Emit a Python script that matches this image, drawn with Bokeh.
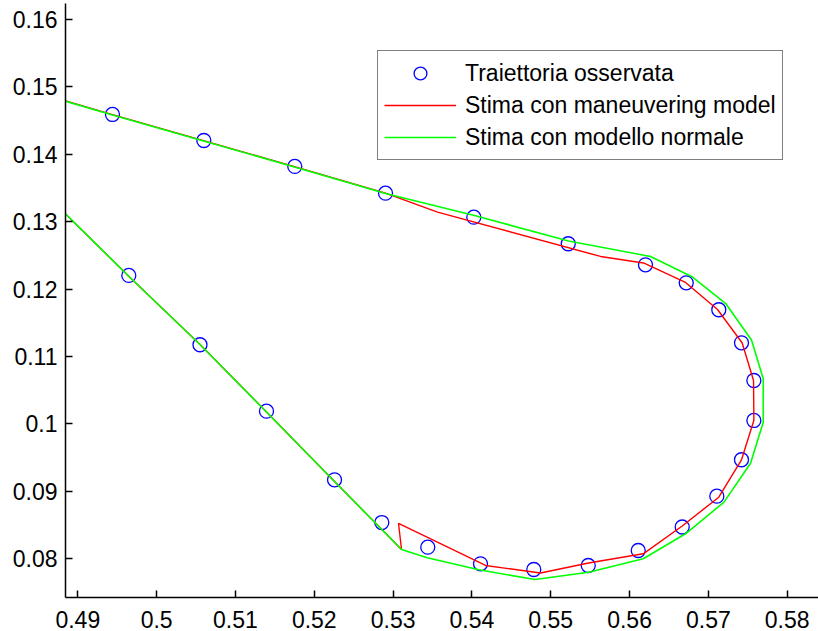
from bokeh.plotting import figure
from bokeh.models import Range1d, FixedTicker, CustomJSTickFormatter, Legend, LegendItem
from bokeh.embed import file_html
from bokeh.resources import INLINE

# Observed trajectory
obs_x = [0.49440, 0.50599, 0.51753, 0.52904, 0.54024, 0.55222, 0.56202, 0.56719,
         0.57132, 0.57420, 0.57577, 0.57577, 0.57420, 0.57107, 0.56668, 0.56110,
         0.55476, 0.54785, 0.54109, 0.53440, 0.52857, 0.52257, 0.51394, 0.50550,
         0.49647]
obs_y = [0.14591, 0.14205, 0.13820, 0.13424, 0.13067, 0.12673, 0.12361, 0.12094,
         0.11694, 0.11204, 0.10645, 0.10052, 0.09469, 0.08929, 0.08472, 0.08123,
         0.07901, 0.07841, 0.07926, 0.08172, 0.08538, 0.09172, 0.10190, 0.11175,
         0.12203]

# Estimate with maneuvering model
man_x = [0.48286, 0.49440, 0.50595, 0.51749, 0.52904, 0.53564, 0.55632, 0.56177,
         0.56710, 0.57116, 0.57429, 0.57573, 0.57577, 0.57420, 0.57132, 0.56668,
         0.56173, 0.55479, 0.54870, 0.54173, 0.53069, 0.53107, 0.52257, 0.51394,
         0.50544, 0.49643, 0.48755]
man_y = [0.14982, 0.14589, 0.14203, 0.13817, 0.13424, 0.13142, 0.12485, 0.12388,
         0.12099, 0.11698, 0.11201, 0.10645, 0.10052, 0.09469, 0.08914, 0.08487,
         0.08074, 0.07938, 0.07789, 0.07901, 0.08524, 0.08138, 0.09147, 0.10178,
         0.11186, 0.12195, 0.13219]

# Estimate with normal model
nor_x = [0.48286, 0.49440, 0.50595, 0.51749, 0.52904, 0.54033, 0.55226, 0.56266,
         0.56799, 0.57224, 0.57547, 0.57696, 0.57696, 0.57535, 0.57198, 0.56710,
         0.56173, 0.55483, 0.54798, 0.54088, 0.53433, 0.53107, 0.52257, 0.51394,
         0.50544, 0.49643, 0.48755]
nor_y = [0.14977, 0.14584, 0.14198, 0.13812, 0.13419, 0.13093, 0.12714, 0.12485,
         0.12180, 0.11780, 0.11246, 0.10670, 0.10026, 0.09418, 0.08840, 0.08371,
         0.08000, 0.07801, 0.07693, 0.07837, 0.08015, 0.08138, 0.09147, 0.10178,
         0.11186, 0.12195, 0.13219]

x_ticks = [0.49, 0.50, 0.51, 0.52, 0.53, 0.54, 0.55, 0.56, 0.57, 0.58]
y_ticks = [0.08, 0.09, 0.10, 0.11, 0.12, 0.13, 0.14, 0.15, 0.16]

labels = ["Traiettoria osservata", "Stima con maneuvering model", "Stima con modello normale"]

FONT = "Liberation Sans"

p = figure(width=818, height=631,
           x_range=Range1d(0.48844, 0.58397), y_range=Range1d(0.07426, 0.16237),
           output_backend="svg", toolbar_location=None,
           min_border_left=65, min_border_right=0, min_border_top=3, min_border_bottom=34)
p.xgrid.visible = False
p.ygrid.visible = False
p.outline_line_color = None
p.background_fill_color = "white"
p.border_fill_color = "white"

fmt = CustomJSTickFormatter(code="return String(Number(tick.toFixed(4)));")
for ax, ticks in ((p.xaxis[0], x_ticks), (p.yaxis[0], y_ticks)):
    ax.ticker = FixedTicker(ticks=ticks)
    ax.formatter = fmt
    ax.major_tick_in = 7
    ax.major_tick_out = 0
    ax.minor_tick_line_color = None
    ax.axis_line_width = 1.5
    ax.major_tick_line_width = 1.5
    ax.axis_line_color = "black"
    ax.major_tick_line_color = "black"
    ax.major_label_text_font = FONT
    ax.major_label_text_font_size = "23px"
    ax.major_label_text_color = "black"
p.xaxis[0].major_label_standoff = 13
p.yaxis[0].major_label_standoff = 8

r_obs = p.scatter(obs_x, obs_y, marker="circle", size=14, fill_color=None,
                  line_color="#0000ff", line_width=1.3)
r_man = p.line(man_x, man_y, line_color="#ff0000", line_width=1.4)
r_nor = p.line(nor_x, nor_y, line_color="#00ff00", line_width=1.6)

legend = Legend(items=[LegendItem(label=labels[0], renderers=[r_obs]),
                       LegendItem(label=labels[1], renderers=[r_man]),
                       LegendItem(label=labels[2], renderers=[r_nor])],
                location=(312, 437))
legend.padding = 6
legend.spacing = 0
legend.glyph_width = 72
legend.glyph_height = 32
legend.label_height = 32
legend.label_standoff = 9
legend.label_text_font = FONT
legend.label_text_font_size = "23px"
legend.label_text_color = "black"
legend.border_line_color = "black"
legend.border_line_width = 1.2
legend.background_fill_color = "white"
legend.background_fill_alpha = 1.0
legend.margin = 0
p.add_layout(legend, "center")

open("out.html", "w").write(file_html(p, INLINE))
